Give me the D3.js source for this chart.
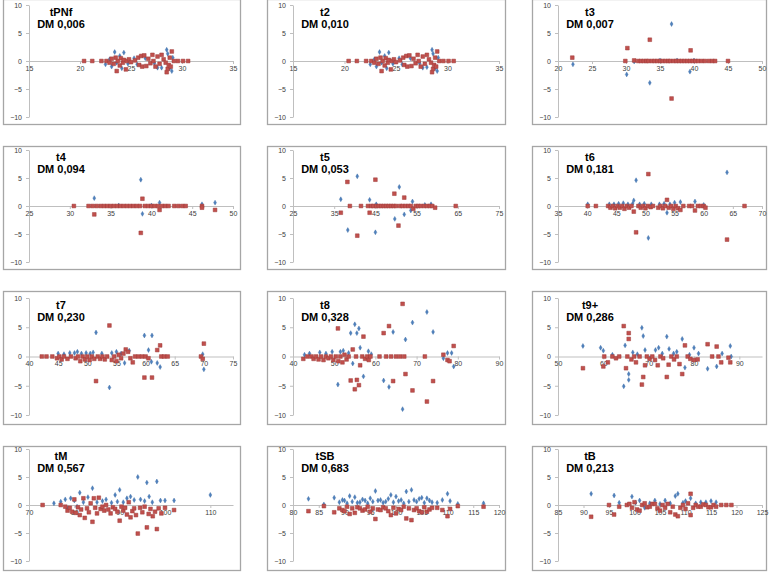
<!DOCTYPE html>
<html>
<head>
<meta charset="utf-8">
<script src="https://cdn.jsdelivr.net/npm/d3@7"></script>
<style>
  body { margin: 0; background: #fff; }
  svg { display: block; font-family: "Liberation Sans", Arial, sans-serif; }
</style>
</head>
<body>
<div id="chart"></div>
<script>
// panel labels and axes
const titles = ["tPNf", "t2", "t3", "t4", "t5", "t6", "t7", "t8", "t9+", "tM", "tSB", "tB"];
const dmLabels = ["DM 0,006", "DM 0,010", "DM 0,007", "DM 0,094", "DM 0,053", "DM 0,181",
                  "DM 0,230", "DM 0,328", "DM 0,286", "DM 0,567", "DM 0,683", "DM 0,213"];
const xDomains = [[15,35],[15,35],[20,50],[25,50],[25,75],[35,70],[40,75],[40,90],[50,95],[70,115],[80,120],[85,125]];
const xTickSteps = [5,5,5,5,10,5,5,10,10,10,5,5];
const yTicks = [-10, -5, 0, 5, 10];

// data: [x, y] pairs, blue = series 1, red = series 2
const tPNfBlue = [[22.5,-0.6],[22.9,0.3],[23.1,-1.0],[23.4,1.6],[23.6,-0.3],[23.9,0.9],[24.3,1.5],[24.1,-1.3],[24.7,-0.5],[25.3,0.5],[25.6,-0.6],[26.4,0.5],[27.3,-0.4],[27.6,-1.2],[28.0,-1.2],[28.5,2.0],[28.6,1.3],[28.8,-1.3],[29.0,-1.8],[29.1,0.6]];
const tPNfRed = [[20.4,0],[21.2,0],[22.1,0],[22.6,0],[22.9,-0.3],[23.1,0.4],[23.3,-0.5],[23.5,0.6],[23.6,-1.8],[23.7,0],[23.9,-0.8],[24.0,0.5],[24.2,-0.3],[24.3,0.2],[24.5,-1.5],[24.6,0],[24.8,0.3],[25.0,-0.2],[25.4,0.1],[25.7,0.6],[25.8,-0.7],[26.0,0.9],[26.1,-1.0],[26.3,1.0],[26.5,-0.9],[26.7,0.4],[26.9,-0.4],[27.1,1.1],[27.2,0],[27.4,-1.0],[27.6,0.8],[27.8,-0.5],[28.0,1.1],[28.2,0.3],[28.4,-0.3],[28.5,-2.0],[28.6,-1.4],[28.7,-0.7],[28.8,0.6],[28.9,-1.0],[29.0,1.7],[29.2,0],[29.6,0],[30.1,0],[30.6,0]];

const t2Blue = [[22.5,-0.6],[22.9,0.3],[23.1,-1.0],[23.4,1.6],[23.6,-0.3],[23.9,0.9],[24.3,1.5],[24.1,-1.3],[24.7,-0.5],[25.3,0.5],[25.6,-0.6],[26.4,0.5],[27.3,-0.4],[27.6,-1.2],[28.0,-1.1],[28.5,2.0],[28.6,1.3],[28.8,-1.3],[29.0,-1.8],[29.1,0.6]];
const t2Red = [[20.4,0],[21.2,0],[22.1,0],[22.6,0],[22.9,-0.3],[23.1,0.4],[23.3,-0.5],[23.5,0.6],[23.6,-1.8],[23.7,0],[23.9,-0.8],[24.0,0.5],[24.2,-0.3],[24.3,0.2],[24.5,-1.5],[24.6,0],[24.8,0.3],[25.0,-0.2],[25.4,0.1],[25.7,0.6],[25.8,-0.7],[26.0,0.9],[26.1,-1.0],[26.3,1.0],[26.5,-0.9],[26.7,0.4],[26.9,-0.4],[27.1,1.1],[27.2,0],[27.4,-1.0],[27.6,0.8],[27.8,-0.5],[28.0,1.1],[28.2,0.3],[28.4,-0.3],[28.5,-2.0],[28.6,-1.4],[28.7,-0.7],[28.8,0.6],[28.9,-1.0],[29.0,1.7],[29.2,0],[29.6,0],[30.1,0],[30.6,0]];

const t3Blue = [[22.2,-0.6],[30.1,-2.4],[31.2,-0.1],[33.5,-3.9],[35.0,0.1],[36.7,6.6],[37.5,0.1],[39.4,-1.9],[40.0,0.1]];
const t3Red = [[22.1,0.6],[29.9,0],[30.2,2.3],[31.2,0.1],[31.8,0],[32.2,0],[32.6,0],[33.0,0],[33.3,0],[33.5,3.8],[33.8,0],[34.2,0],[34.6,0],[35.0,0],[35.4,0],[35.8,0],[36.2,0],[36.5,0],[36.7,-6.7],[37.0,0],[37.4,0],[37.8,0],[38.2,0],[38.6,0],[39.0,0],[39.4,0],[39.5,1.9],[39.8,0],[40.2,0],[40.6,0],[41.1,0],[41.6,0],[42.2,0],[42.7,0],[43.1,0],[45.0,0]];

const t4Blue = [[33.0,1.4],[36.0,0.1],[38.7,4.7],[38.9,-1.4],[40.0,0.1],[41.0,0.6],[46.2,0.3],[47.8,0.6]];
const t4Red = [[30.5,0],[32.3,0],[32.8,0],[33.0,-1.5],[33.3,0],[33.8,0],[34.2,0],[34.6,0],[35.0,0],[35.4,0],[35.8,0],[36.2,0],[36.6,0],[37.0,0],[37.4,0],[37.8,0],[38.2,0],[38.6,0],[38.7,-4.8],[38.9,1.3],[39.2,0],[39.6,0],[40.0,0],[40.4,0],[40.8,0],[41.0,-0.7],[41.3,0],[41.7,0],[42.1,0],[42.8,0],[43.3,0],[43.8,0],[44.2,0],[46.2,0],[46.2,-0.3],[47.8,-0.7]];

const t5Blue = [[36.6,1.2],[38.3,-4.3],[40.6,5.3],[43.6,1.1],[45.0,-4.7],[45.2,0.3],[49.7,-2.3],[50.8,3.4],[52.0,-1.5],[53.6,-0.8],[54.0,0.8],[57.0,0.2],[58.5,0.3]];
const t5Red = [[36.6,-1.2],[38.2,4.3],[38.8,0],[40.6,-5.3],[41.5,0],[43.2,0],[43.6,-1.2],[44.0,0],[44.5,0],[45.0,4.7],[45.2,0],[45.8,0],[46.4,0],[47.0,0],[47.6,0],[48.2,0],[48.8,0],[49.4,0],[49.6,2.2],[50.0,0],[50.6,-3.5],[51.0,0],[51.6,0],[52.0,1.5],[52.3,0],[53.0,0],[53.6,0],[54.2,-0.5],[54.8,0],[55.4,0],[56.0,0],[56.8,0],[57.5,0],[58.2,0],[58.8,0],[59.5,-0.3],[64.5,0]];

const t6Blue = [[40.1,0.3],[43.8,0.3],[44.6,0.3],[45.4,0.4],[46.2,0.5],[47.0,0.3],[47.8,0.4],[48.0,1.0],[48.4,4.6],[49.0,0.3],[49.8,0.4],[50.5,-5.7],[51.0,0.3],[52.4,0.3],[53.2,0.4],[53.7,-1.2],[54.2,0.3],[55.0,0.6],[56.0,0.7],[58.5,0.8],[60.0,0.2],[64.0,6.0]];
const t6Red = [[40.1,0],[41.5,0],[43.6,0],[44.0,-0.3],[44.4,0],[44.8,-0.4],[45.2,0],[45.6,-0.3],[46.0,0],[46.4,-0.5],[46.8,0],[47.2,-0.3],[47.6,0],[48.0,-1.0],[48.4,-4.7],[48.8,0],[49.2,-0.3],[49.6,0],[50.0,-0.4],[50.4,0],[50.5,5.7],[50.9,-0.2],[51.3,0],[52.2,-0.3],[52.6,0],[53.0,-0.4],[53.4,0],[53.7,1.1],[54.0,-0.3],[54.4,0],[54.8,-0.5],[55.2,0],[55.6,-0.4],[56.0,-0.7],[56.5,0],[57.5,0],[58.0,0],[58.5,-0.8],[59.0,0],[59.5,0],[60.0,0],[60.3,-0.3],[64.0,-6.0],[67.0,0]];

const t7Blue = [[45.0,0.5],[46.0,0.4],[47.0,0.6],[47.8,0.6],[48.3,0.8],[49.0,0.5],[49.8,0.6],[50.5,0.5],[51.0,0.7],[51.5,4.1],[52.5,0.5],[53.8,-5.3],[54.2,0.6],[55.0,0.8],[55.8,0.5],[56.4,-1.1],[57.2,1.0],[59.8,3.6],[60.5,1.1],[61.1,3.6],[61.0,-0.9],[62.0,-1.1],[62.5,-1.8],[69.8,0.4],[70.0,-2.2]];
const t7Red = [[42.2,0],[43.0,0],[44.0,0],[44.8,-0.3],[45.2,0],[45.6,-0.5],[46.0,0],[46.6,-0.4],[47.2,0],[48.0,-0.3],[48.4,0],[48.8,-0.8],[49.2,0],[49.6,-0.5],[50.0,0],[50.4,-0.6],[50.8,0],[51.2,-0.4],[51.5,-4.2],[51.8,0],[52.2,-0.4],[52.6,0],[53.0,-0.5],[53.4,0],[53.8,5.3],[54.2,-0.6],[54.6,0],[55.0,-0.8],[55.4,0.3],[55.8,-0.3],[56.2,0.5],[56.6,1.2],[57.0,0.8],[57.4,-0.3],[57.8,-1.0],[58.2,0],[58.8,0],[59.4,0],[59.8,-3.6],[60.0,0],[60.5,-0.3],[61.1,-3.6],[62.0,1.1],[62.5,1.9],[62.7,0],[63.2,0],[63.8,0],[69.5,0],[69.8,-0.4],[70.0,2.2]];

const t8Blue = [[42.8,0.3],[44.0,0.5],[46.5,0.7],[48.0,0.5],[49.5,0.8],[50.9,-4.8],[51.5,0.8],[52.2,1.0],[53.5,0.6],[54.0,4.0],[54.5,-1.2],[55.0,5.5],[55.5,4.0],[56.0,4.8],[56.3,1.5],[57.1,-3.4],[58.3,0.9],[59.0,0.4],[62.0,-4.1],[63.3,-5.2],[64.3,4.2],[66.6,-9.0],[67.3,2.9],[69.0,5.8],[72.5,7.6],[74.0,4.2],[76.5,-0.3],[77.5,0.6],[78.5,0.6],[79.0,-1.7]];
const t8Red = [[42.5,-0.4],[43.5,0],[44.5,0],[45.0,-0.4],[45.6,0],[46.2,-0.5],[46.8,0],[47.4,-0.6],[48.0,0],[48.6,-0.3],[49.2,0],[49.8,-0.6],[50.4,0],[50.9,4.8],[51.0,-0.8],[51.5,0],[52.0,-1.0],[52.5,0.3],[53.0,-0.5],[53.5,0],[54.0,-4.1],[54.5,1.2],[55.0,-5.6],[55.3,0],[55.5,-4.0],[56.0,-4.9],[56.3,-1.5],[56.8,0],[57.1,3.4],[57.5,-0.4],[58.0,0],[58.4,-0.6],[58.8,0],[61.0,0],[62.0,4.0],[62.6,0],[63.3,5.2],[63.8,0],[64.3,-4.2],[65.0,0],[66.0,0],[66.6,9.0],[67.0,0],[67.3,-3.0],[69.0,-5.8],[72.0,0],[72.5,-7.7],[74.0,-4.2],[76.5,0.3],[77.5,-0.6],[78.0,-0.8],[79.0,1.8]];

const t9Blue = [[55.5,1.8],[59.4,1.5],[60.0,1.0],[62.0,0.3],[64.5,-5.1],[64.8,1.9],[65.6,-3.0],[65.6,-4.0],[66.5,0.7],[67.5,0.4],[68.5,4.9],[68.8,3.5],[69.2,1.1],[70.3,-0.3],[71.5,1.1],[72.2,1.5],[73.0,0.5],[74.0,3.4],[74.5,1.3],[75.5,0.5],[76.2,0.8],[77.4,3.0],[78.0,-1.9],[79.0,0.3],[80.0,1.5],[81.0,0.5],[83.0,-2.1],[85.0,-1.7],[86.2,0.5],[88.0,1.8],[88.2,0]];
const t9Red = [[55.5,-2.0],[60.0,-1.7],[60.2,0],[61.0,-1.0],[62.0,0],[62.8,-0.3],[63.5,0],[64.5,5.2],[65.0,-2.0],[65.3,0],[65.6,4.0],[65.6,3.0],[66.2,-0.5],[66.8,0],[67.2,-1.0],[68.0,0],[68.5,-4.8],[68.8,-3.5],[69.2,-1.5],[69.6,0],[70.2,-0.4],[70.8,0],[71.4,-0.6],[72.0,-1.5],[72.6,0],[73.2,-0.3],[74.0,-3.5],[74.4,-1.4],[75.0,0],[75.6,-0.5],[76.2,0],[76.8,-1.3],[77.4,-3.0],[78.0,1.9],[78.6,0],[79.2,-0.4],[80.0,-0.6],[80.8,-0.5],[83.0,2.1],[84.0,0],[85.0,1.7],[85.4,0],[86.0,-1.0],[87.6,-0.2],[88.0,-1.0]];

const tMBlue = [[75.5,0.3],[77.0,0.6],[78.0,1.0],[78.5,-0.6],[79.2,1.2],[80.0,0.8],[80.6,-0.3],[81.2,2.2],[82.0,0.5],[83.0,1.4],[84.0,3.0],[85.0,0.5],[86.2,0.7],[87.0,1.0],[88.2,0.4],[89.0,1.8],[89.5,0.6],[90.0,2.7],[90.8,0.5],[91.6,1.2],[92.4,1.5],[93.2,0.9],[94.0,5.0],[94.6,1.0],[95.5,0.7],[96.0,4.0],[96.5,1.5],[97.2,0.5],[98.2,4.2],[99.0,0.8],[100.0,0.8],[102.0,0.8],[110.0,1.8]];
const tMRed = [[73.0,0],[77.0,0],[78.0,-0.3],[78.5,-1.0],[79.0,-0.5],[79.5,-1.2],[80.0,1.0],[80.3,-1.4],[80.8,-0.4],[81.2,-1.8],[81.5,-0.8],[82.0,1.2],[82.3,-2.3],[82.8,-0.6],[83.2,-1.3],[83.6,0.3],[84.0,-3.0],[84.3,1.2],[84.6,-0.5],[85.0,-1.5],[85.4,1.3],[85.8,-0.7],[86.2,-0.3],[86.6,-1.0],[87.0,0],[87.5,-0.8],[88.0,-1.5],[88.5,-0.4],[89.0,-0.7],[89.5,-1.2],[90.0,-2.8],[90.4,-0.3],[90.8,-1.0],[91.2,-0.5],[91.6,-1.7],[92.0,0.5],[92.4,-2.2],[92.8,-1.1],[93.2,-0.6],[93.6,-1.8],[94.0,-5.1],[94.5,-0.5],[95.0,-1.3],[95.5,-0.3],[96.0,-4.0],[96.4,-1.6],[96.8,-0.7],[97.3,-2.0],[97.8,-1.2],[98.2,-4.3],[98.6,-0.6],[99.2,-1.5],[100.0,-0.5],[102.0,-0.9]];

const tSBBlue = [[83.0,1.1],[86.0,0.1],[88.0,1.3],[89.0,0.5],[89.6,0.9],[90.0,0.8],[90.5,0.3],[91.0,1.6],[91.5,0.6],[92.0,1.4],[92.5,0.4],[93.0,0.5],[93.5,1.0],[94.0,0.8],[94.5,0.3],[95.0,1.2],[95.5,0.6],[96.0,2.5],[96.5,0.8],[97.0,0.9],[97.5,0.4],[98.0,0.6],[98.5,1.1],[99.0,1.8],[99.5,0.5],[100.0,1.5],[100.5,0.7],[101.0,0.9],[101.5,0.3],[102.0,2.4],[102.5,0.6],[103.0,2.7],[103.5,0.9],[104.0,0.6],[104.5,1.1],[105.0,1.3],[105.5,0.4],[106.0,1.2],[106.5,0.8],[107.0,0.5],[108.0,0.4],[109.0,0.9],[110.0,2.0],[110.5,0.7],[112.0,0.2],[117.0,0.3]];
const tSBRed = [[83.0,-1.1],[86.0,-0.2],[88.0,-1.3],[89.0,-0.6],[89.6,-0.9],[90.0,-1.1],[90.5,-0.3],[91.0,-1.6],[91.5,-0.6],[92.0,-1.4],[92.5,-0.4],[93.0,-0.6],[93.5,-1.0],[94.0,-0.8],[94.5,-0.3],[95.0,-1.2],[95.5,-0.6],[96.0,-2.5],[96.5,-0.8],[97.0,-0.9],[97.5,-0.4],[98.0,-0.6],[98.5,-1.1],[99.0,-1.8],[99.5,-0.5],[100.0,-1.5],[100.5,-0.7],[101.0,-0.9],[101.5,-0.3],[102.0,-2.4],[102.5,-0.6],[103.0,-2.7],[103.5,-0.9],[104.0,-0.6],[104.5,-1.1],[105.0,-1.3],[105.5,-0.4],[106.0,-1.2],[106.5,-0.8],[107.0,-0.5],[108.0,-0.5],[109.0,-0.9],[110.0,-2.0],[110.5,-0.7],[112.0,-0.2],[117.0,-0.3]];

const tBBlue = [[91.5,2.0],[96.0,1.7],[97.0,0.4],[99.5,1.5],[100.2,0.4],[101.0,0.8],[102.0,-0.5],[103.0,0.3],[104.0,0.8],[105.0,0.2],[106.0,0.8],[107.0,0.3],[108.0,1.6],[108.5,2.0],[109.5,0.4],[110.0,0.7],[111.0,1.2],[112.0,0.3],[113.0,0.5],[114.0,0.5],[115.0,0.7],[116.0,0.5]];
const tBRed = [[91.5,-2.1],[95.0,0],[96.0,-1.7],[97.0,-0.3],[98.5,0],[99.0,0.2],[99.5,-0.5],[100.0,0.5],[100.5,-0.8],[101.0,-1.0],[101.5,0],[102.0,0.3],[102.5,-0.4],[103.0,-0.3],[103.5,0.2],[104.0,0.2],[104.5,-0.6],[105.0,-1.0],[105.5,0],[106.0,-0.5],[106.5,0.2],[107.0,-1.3],[107.5,-0.3],[108.0,-1.7],[108.5,-2.0],[109.0,-0.5],[109.5,0],[110.0,-0.7],[110.5,0.3],[111.0,2.0],[111.0,-1.8],[111.5,-0.5],[112.0,0],[112.5,-0.3],[113.0,-0.3],[113.5,0.1],[114.0,0],[114.5,-0.4],[115.0,-0.4],[115.5,0],[116.0,-0.3],[117.0,0],[118.0,0],[119.0,0]];

const blueSeries = [tPNfBlue, t2Blue, t3Blue, t4Blue, t5Blue, t6Blue, t7Blue, t8Blue, t9Blue, tMBlue, tSBBlue, tBBlue];
const redSeries = [tPNfRed, t2Red, t3Red, t4Red, t5Red, t6Red, t7Red, t8Red, t9Red, tMRed, tSBRed, tBRed];

// layout of the 4x3 grid (pixels)
const width = 771, height = 573;
const colBoxL = [3, 267, 532], colBoxR = [240, 505, 766];
const colAxisX = [29, 293, 558], colAxisEnd = [233, 499, 762];
const rowBoxT = [-1, 146, 291, 446], rowBoxB = [124, 269, 424, 570];
const rowTop = [5, 150, 298, 449], rowBottom = [117, 262, 415, 561];

const svg = d3.select("#chart")
  .append("svg")
  .attr("width", width)
  .attr("height", height);

titles.forEach((title, i) => {
  const col = i % 3, row = Math.floor(i / 3);
  const g = svg.append("g");

  g.append("rect")
    .attr("x", colBoxL[col] + 0.5)
    .attr("y", rowBoxT[row] + 0.5)
    .attr("width", colBoxR[col] - colBoxL[col])
    .attr("height", rowBoxB[row] - rowBoxT[row])
    .attr("fill", "#fff")
    .attr("stroke", "#a6a6a6")
    .attr("stroke-width", 1.3);

  const x = d3.scaleLinear().domain(xDomains[i]).range([colAxisX[col], colAxisEnd[col]]);
  const y = d3.scaleLinear().domain([-10, 10]).range([rowBottom[row], rowTop[row]]);
  const step = xTickSteps[i];
  const xTicks = d3.range(xDomains[i][0], xDomains[i][1] + 0.001, step);

  const yAxis = g.append("g")
    .attr("transform", `translate(${colAxisX[col]},0)`)
    .call(d3.axisLeft(y).tickValues(yTicks).tickSize(3).tickSizeOuter(0).tickPadding(4));
  const xAxis = g.append("g")
    .attr("transform", `translate(0,${y(0)})`)
    .call(d3.axisBottom(x).tickValues(xTicks).tickSize(3).tickSizeOuter(0).tickPadding(2));

  [yAxis, xAxis].forEach(ax => {
    ax.select(".domain").attr("stroke", "#bfbfbf");
    ax.selectAll(".tick line").attr("stroke", "#bfbfbf");
    ax.selectAll(".tick text")
      .attr("fill", "#404040")
      .style("font-size", "7px")
      .style("font-family", "'Liberation Sans', Arial, sans-serif");
  });

  const blue = d3.symbol().type(d3.symbolDiamond).size(7);
  const red = d3.symbol().type(d3.symbolSquare).size(14);

  g.append("g")
    .selectAll("path")
    .data(blueSeries[i])
    .join("path")
    .attr("transform", d => `translate(${x(d[0])},${y(d[1])})`)
    .attr("d", blue)
    .attr("fill", "#4F81BD")
    .attr("stroke", "#3A6AA5")
    .attr("stroke-width", 0.4);

  g.append("g")
    .selectAll("path")
    .data(redSeries[i])
    .join("path")
    .attr("transform", d => `translate(${x(d[0])},${y(d[1])})`)
    .attr("d", red)
    .attr("fill", "#C0504D")
    .attr("stroke", "#9E3B39")
    .attr("stroke-width", 0.5);

  const cx = colBoxL[col] + 58;
  g.append("text")
    .attr("x", cx)
    .attr("y", rowTop[row] + 11)
    .attr("text-anchor", "middle")
    .attr("font-weight", "bold")
    .attr("font-size", 11)
    .text(title);
  g.append("text")
    .attr("x", cx)
    .attr("y", rowTop[row] + 23)
    .attr("text-anchor", "middle")
    .attr("font-weight", "bold")
    .attr("font-size", 11)
    .text(dmLabels[i]);
});
</script>
</body>
</html>
